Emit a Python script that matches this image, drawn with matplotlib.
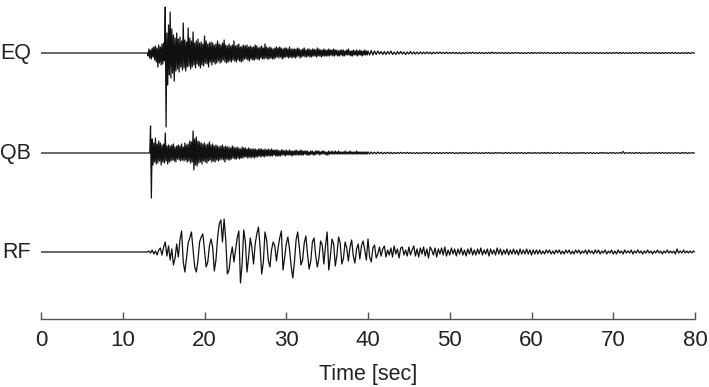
import numpy as np
import matplotlib
matplotlib.use("Agg")
import matplotlib.pyplot as plt

plt.rcParams["font.family"] = ["Liberation Sans", "DejaVu Sans"]

# trace names and vertical position of each baseline (plot units)
names = ["EQ", "QB", "RF"]
baselines = [-53, -153, -252]

# EQ: read at 0.1 s from 13.0 s to 39.9 s, then 0.2 s from 40 s to 80 s
eq_early = [
    0, -3, 4, -5, 3, -6, 5, -4, 6, -7,
    7, -9, 5, -14, 8, -10, 6, -12, 9, -11,
    10, -8, 46, -74, 20, -32, 28, -22, 41, -25,
    24, -20, 18, -28, 15, -18, 20, -16, 14, -19,
    16, -14, 12, -17, 30, -15, 13, -18, 11, -14,
    25, -13, 15, -16, 12, -14, 21, -12, 10, -15,
    12, -11, 14, -13, 10, -15, 11, -12, 9, -13,
    17, -10, 12, -11, 9, -14, 10, -9, 11, -12,
    10, -9, 8, -11, 9, -10, 12, -8, 9, -10,
    8, -9, 10, -7, 13, -9, 8, -10, 7, -9,
    9, -8, 7, -9, 8, -7, 12, -8, 7, -9,
    8, -7, 9, -8, 6, -9, 7, -8, 8, -6,
    7, -6, 8, -7, 6, -8, 7, -6, 6, -7,
    6, -7, 8, -6, 7, -6, 5, -7, 6, -5,
    7, -6, 5, -6, 9, -5, 6, -6, 5, -6,
    6, -5, 5, -6, 4, -6, 5, -5, 6, -4,
    5, -5, 6, -4, 5, -6, 4, -5, 5, -4,
    5, -4, 4, -5, 6, -4, 4, -5, 4, -4,
    4, -5, 4, -4, 5, -3, 4, -5, 3, -4,
    4, -3, 5, -4, 3, -4, 4, -3, 4, -4,
    3, -4, 4, -3, 4, -3, 3, -4, 5, -3,
    4, -3, 3, -4, 3, -3, 4, -3, 3, -3,
    3, -3, 4, -3, 3, -2, 3, -3, 4, -3,
    3, -2, 3, -3, 2, -3, 3, -2, 3, -3,
    3, -3, 2, -2, 3, -2, 4, -2, 2, -3,
    2, -3, 3, -2, 2, -2, 3, -3, 2, -2,
    3, -2, 2, -3, 2, -2, 3, -2, 2, -2,
]
eq_late = [
    2, -2, 2.5, -2, 2, -1.5, 2, -1, 1.5, -1.5,
    1.5, -1.5, 1.5, -1, 2, -1.5, 1, -1.5, 1.5, -1,
    1.5, -1, 1, -1.5, 1, -1, 1.5, -1, 1, -1,
    1, -1, 1, -0.8, 0.8, -0.8, 1, -0.6, 0.8, -1,
    0.8, -0.6, 0.8, -0.6, 1, -0.6, 0.6, -0.6, 0.8, -0.6,
    0.6, -0.6, 0.8, -0.5, 0.6, -0.6, 0.6, -0.8, 0.5, -0.6,
    0.6, -0.5, 0.6, -0.5, 0.8, -0.5, 0.5, -0.6, 0.6, -0.5,
    0.5, -0.6, 0.5, -0.5, 0.6, -0.5, 0.8, -0.5, 0.5, -0.5,
    0.5, -0.5, 0.6, -0.5, 0.5, -0.5, 0.5, -0.6, 0.5, -0.5,
    0.6, -0.3, 0.5, -0.5, 0.5, -0.5, 0.3, -0.5, 0.5, -0.5,
    0.5, -0.5, 0.5, -0.3, 0.5, -0.5, 0.6, -0.5, 0.5, -0.3,
    0.5, -0.5, 0.3, -0.5, 0.5, -0.5, 0.5, -0.5, 0.5, -0.5,
    0.5, -0.5, 0.5, -0.5, 0.5, -0.3, 0.5, -0.5, 0.5, -0.5,
    0.3, -0.5, 0.5, -0.5, 0.5, -0.5, 0.5, -0.3, 0.5, -0.5,
    0.5, -0.5, 0.5, -0.5, 0.3, -0.5, 0.5, -0.5, 0.5, -0.5,
    0.5, -0.3, 0.5, -0.5, 0.5, -0.5, 0.5, -0.5, 0.3, -0.5,
    0.5, -0.5, 0.5, -0.5, 0.5, -0.5, 0.5, -0.3, 0.5, -0.5,
    0.5, -0.5, 0.3, -0.5, 0.5, -0.5, 0.5, -0.5, 0.5, -0.5,
    0.5, -0.5, 0.5, -0.3, 0.5, -0.5, 0.5, -0.5, 0.5, -0.5,
    0.3, -0.5, 0.5, -0.5, 0.5, -0.5, 0.5, -0.5, 0.3, 0,
    0,
]

# QB: same sampling as EQ
qb_early = [
    0, 0, 0, 0, 27, -45, 14, -12, 10, -9,
    15, -11, 9, -10, 12, -8, 10, -12, 8, -9,
    9, -10, 20, -8, 7, -11, 8, -9, 7, -8,
    8, -7, 9, -8, 6, -9, 7, -6, 8, -7,
    7, -8, 9, -7, 6, -8, 10, -7, 8, -9,
    9, -8, 12, -10, 11, -9, 22, -17, 14, -12,
    16, -13, 12, -10, 11, -9, 10, -11, 9, -8,
    10, -9, 8, -10, 9, -8, 11, -7, 8, -9,
    9, -8, 7, -9, 8, -7, 7, -8, 6, -7,
    7, -6, 8, -7, 6, -9, 7, -6, 6, -7,
    6, -7, 5, -6, 7, -5, 6, -6, 5, -6,
    6, -5, 5, -6, 4, -5, 6, -5, 5, -4,
    5, -4, 4, -5, 5, -4, 4, -5, 4, -4,
    4, -5, 4, -4, 3, -4, 4, -3, 4, -4,
    4, -3, 3, -4, 4, -3, 3, -3, 4, -3,
    3, -3, 4, -3, 3, -2, 3, -3, 3, -3,
    3, -3, 2, -3, 3, -2, 3, -2, 2, -3,
    3, -2, 2, -2, 3, -2, 2, -3, 2, -2,
    2, -2, 3, -2, 2, -2, 2, -2, 3, -2,
    2, -2, 2, -1, 2, -2, 2, -2, 1, -2,
    2, -1, 2, -2, 1, -2, 2, -1, 2, -1,
    2, -2, 1, -1, 2, -1, 2, -1, 1, -2,
    1, -2, 2, -1, 1, -1, 2, -1, 1, -1,
    2, -1, 1, -1, 2, -1, 1, -1, 1, -1,
    1, -1, 2, -1, 1, -1, 1, -1, 2, -1,
    1, -1, 1, -1, 1, -1, 2, -1, 1, -1,
    1, -1, 1, -1, 1, -1, 1, -1, 1, -1,
]
qb_late = [
    1, -1, 1, -0.8, 0.8, -0.8, 1, -0.6, 0.8, -0.8,
    0.6, -0.5, 0.8, -0.6, 0.6, -0.6, 0.5, -0.6, 0.6, -0.5,
    0.6, -0.5, 0.5, -0.3, 0.6, -0.5, 0.5, -0.5, 0.3, -0.5,
    0.5, -0.5, 0.3, -0.5, 0.5, -0.3, 0.5, -0.5, 0.5, -0.5,
    0.3, -0.5, 0.5, -0.5, 0.5, -0.5, 0.3, -0.3, 0.5, -0.5,
    0.5, -0.3, 0.5, -0.5, 0.3, -0.5, 0.5, -0.5, 0.5, -0.3,
    0.5, -0.5, 0.3, -0.5, 0.5, -0.3, 0.5, -0.5, 0.3, -0.5,
    0.3, -0.5, 0.5, -0.3, 0.5, -0.5, 0.3, -0.5, 0.5, -0.3,
    0.5, -0.3, 0.3, -0.5, 0.5, -0.3, 0.5, -0.5, 0.3, -0.3,
    0.5, -0.5, 0.3, -0.3, 0.5, -0.5, 0.3, -0.5, 0.5, -0.3,
    0.3, -0.5, 0.5, -0.3, 0.3, -0.5, 0.5, -0.3, 0.5, -0.5,
    0.5, -0.3, 0.3, -0.5, 0.5, -0.3, 0.3, -0.5, 0.5, -0.3,
    0.3, -0.3, 0.5, -0.5, 0.3, -0.5, 0.5, -0.3, 0.3, -0.5,
    0.5, -0.3, 0.5, -0.5, 0.3, -0.3, 0.5, -0.5, 0.3, -0.5,
    0.3, -0.5, 0.5, -0.3, 0.5, -0.3, 0.3, -0.5, 0.5, -0.3,
    0.5, -0.5, 0.3, -0.3, 0.5, -0.5, 1.5, -0.5, 0.3, -0.3,
    0.5, -0.3, 0.3, -0.5, 0.5, -0.3, 0.5, -0.5, 0.3, -0.3,
    0.3, -0.5, 0.5, -0.3, 0.3, -0.5, 0.5, -0.3, 0.5, -0.5,
    0.5, -0.3, 0.3, -0.5, 0.5, -0.3, 0.3, -0.5, 0.5, -0.3,
    0.3, -0.5, 0.5, -0.3, 0.5, -0.5, 0.3, -0.3, 0.3, 0,
    0,
]

# RF: read at 0.2 s from 13.0 s to 80.0 s
rf = [
    0, 1, -1, 2, -2, 1, -3, 2, 4, -3,
    5, 10, -4, 6, -8, 3, -13, -6, 8, -5,
    12, 21, -10, -20, -6, 9, 14, 20, 3, -15,
    -20, -8, 10, 15, 18, 2, -15, -10, 6, 13,
    5, -19, -8, 14, 28, 32, 10, 33, 12, -22,
    -18, -4, 5, -10, 2, 14, 21, -31, -12, 22,
    10, -20, -5, 14, 4, -12, 8, 18, 25, 5,
    -22, -10, 20, 12, -8, -15, 2, 10, 6, -9,
    4, 14, 21, -18, -6, 8, 15, 3, -14, -26,
    -10, 12, 20, 5, -13, -8, 9, 16, -2, -17,
    -9, 10, 14, -4, -15, -6, 11, 7, -12, 6,
    20, -18, -4, 13, 8, -14, -3, 15, 9, -12,
    -6, 10, 4, -9, 5, 12, -4, -11, 3, 8,
    -7, 6, 11, 2, -8, 13, -5, -10, 4, 7,
    -6, -2, 5, -4, 3, 6, -5, 2, -3, 4,
    -5, 6, -2, 3, -6, 4, 5, -3, 2, -4,
    5, -3, 2, 6, -4, 3, -5, 4, -2, 5,
    -4, 3, -6, 5, 2, -3, 4, -5, 3, -2,
    4, -3, 5, -4, 2, -3, 4, -2, 3, -4,
    3, -2, 4, -3, 2, -4, 3, -2, 4, -3,
    2, -3, 3, -2, 4, -3, 2, -2, 3, -4,
    3, -2, 2, -3, 4, -2, 3, -3, 2, -2,
    3, -3, 2, -2, 3, -2, 2, -3, 3, -2,
    2, -2, 3, -2, 2, -3, 2, -2, 2, -2,
    2, -2, 1, -2, 2, -1, 2, -2, 1, -2,
    2, -1, 2, -2, 1, -2, 2, -1, 2, -2,
    1, -2, 2, -1, 2, -2, 1, -1, 2, -2,
    2, -1, 1, -2, 2, -1, 2, -2, 1, -1,
    2, -2, 1, -1, 2, -2, 1, -2, 2, -1,
    1, -2, 2, -1, 1, -1, 2, -2, 1, -1,
    2, -1, 1, -2, 1, -1, 2, -1, 1, -2,
    1, -1, 2, -1, 1, -2, 1, -1, 2, -1,
    1, -1, 1, -2, 3, -1, 1, -1, 2, -1,
    1, -1, 1, -1, 1, 0,
]

xticks = [0, 10, 20, 30, 40, 50, 60, 70, 80]


def build(onset, parts):
    # parts: list of (dt, values); trace is flat from 0 s to the onset
    t = [0.0]
    v = [0.0]
    start = onset
    for dt, vals in parts:
        tt = start + dt * np.arange(len(vals))
        t.extend(tt)
        v.extend(vals)
        start = tt[-1] + dt
    return np.array(t), np.array(v, dtype=float)


traces = [
    build(13.0, [(0.1, eq_early), (0.2, eq_late)]),
    build(13.0, [(0.1, qb_early), (0.2, qb_late)]),
    build(13.0, [(0.2, rf)]),
]

fig = plt.figure(figsize=(7.09, 3.87), dpi=100)
ax = fig.add_axes([41 / 709, 1 - 319 / 387, 654 / 709, 319 / 387])

for name, base, (t, v) in zip(names, baselines, traces):
    ax.plot(t, base + v, color="#111111", lw=0.9)
    ax.text(-1.2, base, name, ha="right", va="center", fontsize=15.5,
            color="#222222", clip_on=False)

ax.set_xlim(0, 80)
ax.set_ylim(-319, 0)
ax.set_xticks(xticks)
ax.set_yticks([])
for s in ["top", "right", "left"]:
    ax.spines[s].set_visible(False)
ax.spines["bottom"].set_color("#555555")
ax.spines["bottom"].set_linewidth(1.0)
ax.tick_params(axis="x", direction="in", length=5, width=1.0, color="#555555",
               labelsize=16, labelcolor="#222222", pad=8)
ax.set_xlabel("Time [sec]", fontsize=15.5, color="#222222", labelpad=9)

fig.savefig("out.png", dpi=100)
